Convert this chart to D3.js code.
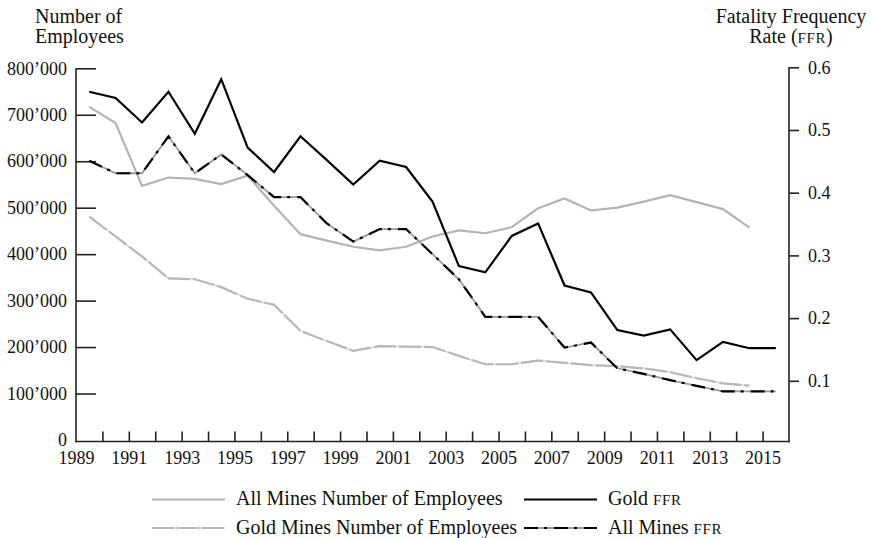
<!DOCTYPE html>
<html><head><meta charset="utf-8">
<script src="https://cdn.jsdelivr.net/npm/d3@7"></script>
<style>
html,body{margin:0;padding:0;background:#fff;}
svg{display:block;font-family:"Liberation Serif","Times New Roman",serif;}
</style></head>
<body><svg id="c" width="872" height="538"></svg>
<script>
const years = d3.range(1989, 2016);
const allMinesEmployees = [717000,682000,547000,565000,562000,551000,569000,504000,443000,429000,416000,408000,416000,438000,451000,445000,458000,499000,520000,494000,500000,513000,527000,512000,497000,457000];
const goldMinesEmployees = [481000,438000,395000,348000,346000,329000,304000,291000,235000,213000,192000,202000,201000,200000,181000,163000,163000,171000,166000,161000,159000,154000,146000,133000,122000,117000];
const goldFFR = [0.561,0.551,0.512,0.561,0.494,0.581,0.472,0.433,0.490,0.452,0.413,0.451,0.441,0.386,0.283,0.273,0.331,0.351,0.252,0.241,0.181,0.172,0.182,0.133,0.162,0.152,0.152];
const allMinesFFR = [0.451,0.431,0.431,0.490,0.431,0.461,0.428,0.393,0.393,0.351,0.322,0.342,0.342,0.302,0.262,0.202,0.202,0.202,0.153,0.161,0.120,0.111,0.101,0.092,0.083,0.083,0.083];
const leftTicks = [0,100000,200000,300000,400000,500000,600000,700000,800000];
const rightTicks = [0.1,0.2,0.3,0.4,0.5,0.6];
const xLabelYears = d3.range(1989, 2016, 2);

const svg = d3.select("#c");
const x = d3.scaleLinear().domain([1989, 2016]).range([76, 789]);
const yL = d3.scaleLinear().domain([0, 800000]).range([440, 68.3]);
const yR = d3.scaleLinear().domain([0, 0.6]).range([443.5, 67.3]);
const fmtL = v => v === 0 ? "0" : d3.format(",")(v).replace(/,/g, "\u2019");

// left axis
const gL = svg.append("g").attr("transform", "translate(76,0)")
  .call(d3.axisLeft(yL).tickValues(leftTicks).tickFormat(fmtL).tickSize(-20).tickSizeOuter(0).tickPadding(9));
gL.select(".domain").remove();
gL.selectAll(".tick line").attr("stroke", "#222").attr("stroke-width", 1.6).filter(d => d === 0).remove();
gL.selectAll("text").attr("font-size", 18).attr("fill", "#111").attr("font-family", "Liberation Serif");
svg.append("line").attr("x1", 76).attr("x2", 76).attr("y1", yL(800000)).attr("y2", 442.3).attr("stroke", "#222").attr("stroke-width", 1.6);

// right axis
const gR = svg.append("g").attr("transform", "translate(789,0)")
  .call(d3.axisRight(yR).tickValues(rightTicks).tickFormat(d3.format(".1f")).tickSize(10).tickSizeOuter(0).tickPadding(9));
gR.select(".domain").remove();
gR.selectAll(".tick line").attr("stroke", "#222").attr("stroke-width", 1.6);
gR.selectAll("text").attr("font-size", 18).attr("fill", "#111").attr("font-family", "Liberation Serif");
svg.append("line").attr("x1", 789).attr("x2", 789).attr("y1", yR(0.6)).attr("y2", 442.3).attr("stroke", "#222").attr("stroke-width", 1.6);

// x axis
const gX = svg.append("g").attr("transform", "translate(0,441.5)")
  .call(d3.axisBottom(x).tickValues(d3.range(1989, 2016)).tickFormat(d => xLabelYears.includes(d) ? String(d) : "").tickSize(-10).tickSizeOuter(0).tickPadding(10));
gX.select(".domain").remove();
gX.selectAll(".tick line").attr("stroke", "#222").attr("stroke-width", 1.6).filter(d => d === 1989).remove();
gX.selectAll("text").attr("font-size", 18).attr("fill", "#111").attr("font-family", "Liberation Serif");
svg.append("line").attr("x1", 75.2).attr("x2", 789.8).attr("y1", 441.5).attr("y2", 441.5).attr("stroke", "#222").attr("stroke-width", 1.6);

// titles
svg.append("text").attr("x", 35).attr("y", 22.5).attr("font-size", 20).attr("fill", "#111").text("Number of");
svg.append("text").attr("x", 35).attr("y", 42.5).attr("font-size", 20).attr("fill", "#111").text("Employees");
svg.append("text").attr("x", 791).attr("y", 22.5).attr("font-size", 20).attr("fill", "#111").attr("text-anchor", "middle").text("Fatality Frequency");
const rt = svg.append("text").attr("x", 791).attr("y", 42.5).attr("font-size", 20).attr("fill", "#111").attr("text-anchor", "middle");
rt.append("tspan").text("Rate (");
rt.append("tspan").attr("font-size", 15).attr("letter-spacing", 0.6).text("FFR");
rt.append("tspan").text(")");

// series
const styles = {
  allEmp: {stroke: "#b3b3b3", width: 2.2, dash: null, under: null},
  goldEmp: {stroke: "#b8b8b8", width: 2.2, dash: "22,3", under: "#dedede"},
  goldFFR: {stroke: "#000", width: 2.2, dash: null, under: null},
  allFFR: {stroke: "#000", width: 2.2, dash: "14,6,3,7", under: "#9a9a9a"}
};
const lineL = d3.line().x((d, i) => x(years[i] + 0.5)).y(d => yL(d));
const lineR = d3.line().x((d, i) => x(years[i] + 0.5)).y(d => yR(d));
function draw(data, gen, s) {
  if (s.under) svg.append("path").datum(data).attr("d", gen).attr("fill", "none")
    .attr("stroke", s.under).attr("stroke-width", s.width - 0.4);
  const p = svg.append("path").datum(data).attr("d", gen).attr("fill", "none")
    .attr("stroke", s.stroke).attr("stroke-width", s.width).attr("stroke-linejoin", "miter");
  if (s.dash) p.attr("stroke-dasharray", s.dash);
}
draw(allMinesEmployees, lineL, styles.allEmp);
draw(goldMinesEmployees, lineL, styles.goldEmp);
draw(goldFFR, lineR, styles.goldFFR);
draw(allMinesFFR, lineR, styles.allFFR);

// legend
const legend = [
  {label: "All Mines Number of Employees", s: styles.allEmp, x: 152, y: 499.5, small: false},
  {label: "Gold Mines Number of Employees", s: styles.goldEmp, x: 152, y: 528, small: false},
  {label: "Gold ", s: styles.goldFFR, x: 524, y: 499.5, small: true},
  {label: "All Mines ", s: styles.allFFR, x: 524, y: 528, small: true}
];
legend.forEach(l => {
  if (l.s.under) svg.append("line").attr("x1", l.x).attr("x2", l.x + 73).attr("y1", l.y).attr("y2", l.y)
    .attr("stroke", l.s.under).attr("stroke-width", l.s.width - 0.4);
  const ln = svg.append("line").attr("x1", l.x).attr("x2", l.x + 73).attr("y1", l.y).attr("y2", l.y)
    .attr("stroke", l.s.stroke).attr("stroke-width", l.s.width);
  if (l.s.dash) ln.attr("stroke-dasharray", l.s.dash);
  const t = svg.append("text").attr("x", l.x + 84).attr("y", l.y + 5.5).attr("font-size", 20).attr("fill", "#111");
  t.append("tspan").text(l.label);
  if (l.small) t.append("tspan").attr("font-size", 15).attr("letter-spacing", 0.6).text("FFR");
});
</script></body></html>
